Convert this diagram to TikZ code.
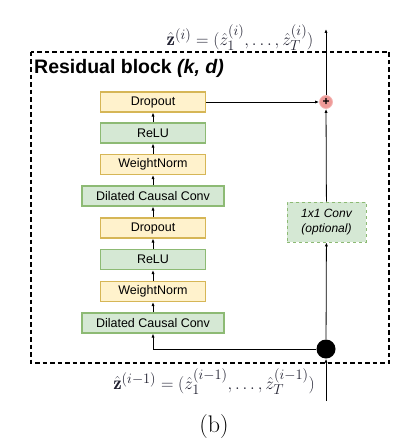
\documentclass[tikz,border=0pt]{standalone}
\usepackage{fontspec}
\setsansfont{Liberation Sans}
\usetikzlibrary{arrows.meta}
\definecolor{yfill}{HTML}{FFF2CC}
\definecolor{ydraw}{HTML}{D6B656}
\definecolor{gfill}{HTML}{D5E8D4}
\definecolor{gdraw}{HTML}{8DBA74}
\definecolor{pfill}{HTML}{EE9A98}
\definecolor{pdraw}{HTML}{F5B8B6}
\definecolor{mathgray}{HTML}{202030}
\begin{document}
\begin{tikzpicture}[x=1pt,y=-1pt,
  blk/.style={draw, line width=1.1pt, minimum height=20pt, inner sep=0pt,
    font=\sffamily\fontsize{12.5}{14}\selectfont},
  ybox/.style={blk, fill=yfill, draw=ydraw, minimum width=105pt},
  gbox/.style={blk, fill=gfill, draw=gdraw, minimum width=105pt},
  gwide/.style={blk, fill=gfill, draw=gdraw, minimum width=142pt},
  arr/.style={-{Latex[length=4pt,width=3.2pt]}, line width=0.8pt},
  mathtxt/.style={text=mathgray, inner sep=0pt, font=\fontsize{19}{21}\selectfont}
]
\useasboundingbox (0,0) rectangle (406,444);
% dashed block
\draw[line width=1.6pt, dash pattern=on 4.5pt off 3pt] (31,52) rectangle (389,363);
\node[anchor=base west, inner sep=0pt, font=\sffamily\bfseries\fontsize{19.5}{21}\selectfont] (title) at (34,74) {Residual block \textit{(k, d)}};
% main stack
\node[ybox] (do1) at (153,102) {Dropout};
\node[gbox] (re1) at (153,133) {ReLU};
\node[ybox] (wn1) at (153,164.5) {WeightNorm};
\node[gwide] (dc1) at (153,196) {Dilated Causal Conv};
\node[ybox] (do2) at (153,228) {Dropout};
\node[gbox] (re2) at (153,259.5) {ReLU};
\node[ybox] (wn2) at (153,291.5) {WeightNorm};
\node[gwide] (dc2) at (153,323) {Dilated Causal Conv};
\draw[arr] (dc2) -- (wn2);
\draw[arr] (wn2) -- (re2);
\draw[arr] (re2) -- (do2);
\draw[arr] (do2) -- (dc1);
\draw[arr] (dc1) -- (wn1);
\draw[arr] (wn1) -- (re1);
\draw[arr] (re1) -- (do1);
% residual path
\node[circle, fill=black, minimum size=19pt, inner sep=0pt] (dot) at (326,349) {};
\node[circle, fill=pfill, draw=pdraw, line width=0.8pt, minimum size=13pt, inner sep=0pt, font=\sffamily\bfseries\fontsize{12}{12}\selectfont] (plus) at (326,102) {+};
\node[draw=gdraw, fill=gfill, dashed, line width=0.8pt, minimum width=79pt, minimum height=40pt, inner sep=0pt, align=center, font=\sffamily\itshape\fontsize{12}{15}\selectfont] (c11) at (326.5,222) {1x1 Conv\\(optional)};
\coordinate (in) at (326,401);
\coordinate (out) at (326,29);
\draw[arr] (in) -- (dot);
\draw[arr] (dot) -| (dc2);
\draw[arr] (dot) -- (c11);
\draw[arr] (c11) -- (plus);
\draw[arr] (do1) -- (plus);
\draw[arr] (plus) -- (out);
% formulas
\node[mathtxt] (zout) at (240,38) {$\hat{\mathbf{z}}^{(i)} = (\hat{z}_1^{(i)}, \ldots, \hat{z}_T^{(i)})$};
\node[mathtxt] (zin) at (214,382) {$\hat{\mathbf{z}}^{(i-1)} = (\hat{z}_1^{(i-1)}, \ldots, \hat{z}_T^{(i-1)})$};
\node[inner sep=0pt, font=\fontsize{24}{26}\selectfont] (cap) at (214,427) {(b)};
\end{tikzpicture}
\end{document}
